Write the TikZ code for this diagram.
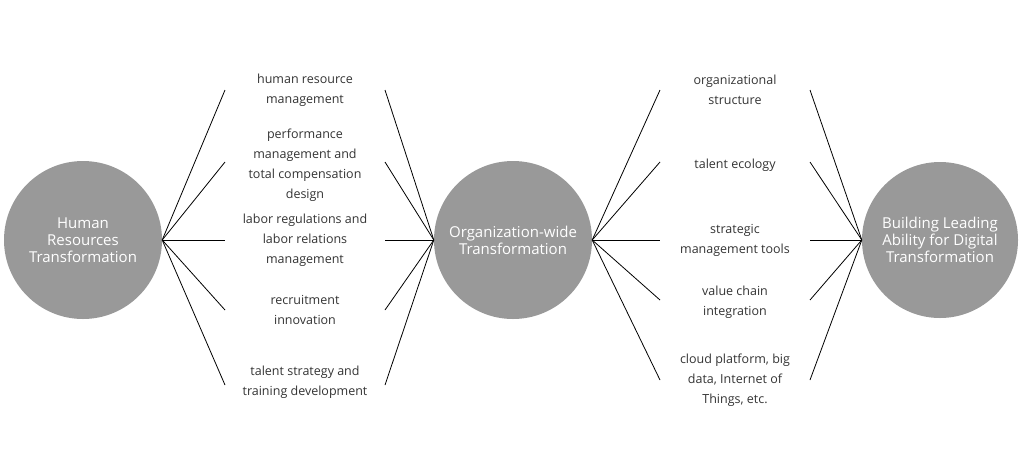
\documentclass[tikz,border=0pt]{standalone}
\usepackage{fontspec}
\setmainfont{Open Sans}
\begin{document}
\begin{tikzpicture}[x=1pt,y=-1pt]
        %colores
        \colorlet{hub}{black!40}
        \colorlet{txt}{black!80}
        \tikzset{
            hubnode/.style={circle,fill=hub,minimum size=158pt,inner sep=0pt,text=white,
                align=center,font=\fontsize{15}{17}\selectfont},
            item/.style={text=txt,align=center,font=\fontsize{12.5}{20}\selectfont},
            spoke/.style={black,line width=0.8pt}
        }
        \useasboundingbox (0,0) rectangle (1030,459);

        % Circulos
        \node[hubnode] (hr) at (83,240) {Human\\Resources\\Transformation};
        \node[hubnode] (org) at (513,240) {Organization-wide\\Transformation};
        \node[hubnode,minimum size=156pt] (lead) at (940,240) {Building Leading\\Ability for Digital\\Transformation};

        % Textos izquierda
        \foreach \y/\t [count=\i] in {90/{human resource\\management},
            165/{performance\\management and\\total compensation\\design},
            240/{labor regulations and\\labor relations\\management},
            310/{recruitment\\innovation},
            382/{talent strategy and\\training development}}
        {
            \node[item] (l\i) at (305,\y) {\t};
        }
        % Textos derecha
        \foreach \y/\t [count=\i] in {90/{organizational\\structure},
            165/{talent ecology},
            240/{strategic\\management tools},
            302/{value chain\\integration},
            380/{cloud platform, big\\data, Internet of\\Things, etc.}}
        {
            \node[item] (r\i) at (735,\y) {\t};
        }

        % Rayos
        \foreach \y [count=\i] in {90,162,240,310,385}
        {
            \coordinate (la\i) at (225,\y);
            \coordinate (lb\i) at (385,\y);
            \draw[spoke] (hr.east) -- (la\i);
            \draw[spoke] (lb\i) -- (org.west);
        }
        \foreach \y [count=\i] in {90,162,240,300,380}
        {
            \coordinate (ra\i) at (660,\y);
            \coordinate (rb\i) at (810,\y);
            \draw[spoke] (org.east) -- (ra\i);
            \draw[spoke] (rb\i) -- (lead.west);
        }
    \end{tikzpicture}
\end{document}
